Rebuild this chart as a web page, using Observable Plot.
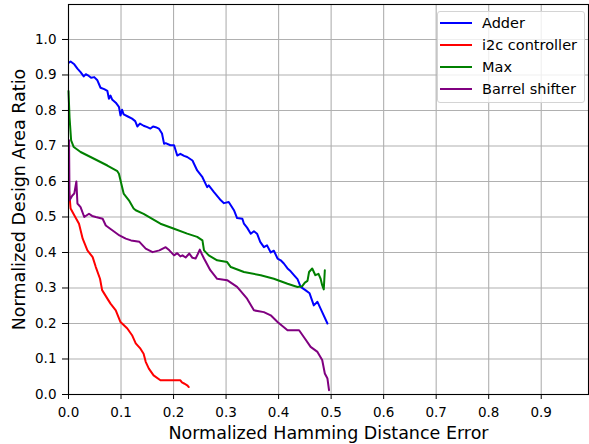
<!DOCTYPE html>
<html>
<head>
<meta charset="utf-8">
<script src="https://cdn.jsdelivr.net/npm/d3@7"></script>
<script src="https://cdn.jsdelivr.net/npm/@observablehq/plot@0.6"></script>
<style>
  body { margin: 0; background: #fff; font-family: "DejaVu Sans", sans-serif; }
  #wrap { position: relative; width: 589px; height: 444px; }
  .legend { position: absolute; left: 437px; top: 11px; width: 148px; height: 92px; box-sizing: border-box;
            border: 1px solid #d4d4d4; border-radius: 3px; background: rgba(255,255,255,0.8);
            font-family: "DejaVu Sans", sans-serif; font-size: 14.5px; color: #000; }
  .legend .row { position: absolute; left: 0; height: 22px; display: flex; align-items: center; white-space: nowrap; }
  .legend .sw { width: 32px; height: 2px; margin-left: 2px; margin-right: 10px; }
</style>
</head>
<body>
<div id="wrap"></div>
<script>
const seriesNames = ["Adder", "i2c controller", "Max", "Barrel shifter"];
const seriesColors = ["blue", "red", "green", "purple"];
const xTicks = [0, 0.1, 0.2, 0.3, 0.4, 0.5, 0.6, 0.7, 0.8, 0.9];
const yTicks = [0, 0.1, 0.2, 0.3, 0.4, 0.5, 0.6, 0.7, 0.8, 0.9, 1.0];
const xLabel = "Normalized Hamming Distance Error";
const yLabel = "Normalized Design Area Ratio";

const adderX = [0.001,0.004,0.011,0.017,0.023,0.029,0.033,0.037,0.043,0.049,0.055,0.061,0.068,0.074,0.077,0.080,0.083,0.090,0.096,0.099,0.102,0.105,0.113,0.121,0.127,0.131,0.136,0.143,0.150,0.156,0.161,0.166,0.172,0.178,0.182,0.185,0.194,0.201,0.207,0.213,0.220,0.226,0.236,0.245,0.255,0.264,0.267,0.277,0.290,0.296,0.305,0.315,0.321,0.331,0.334,0.340,0.347,0.353,0.359,0.365,0.372,0.378,0.385,0.391,0.398,0.404,0.410,0.417,0.423,0.430,0.436,0.442,0.451,0.459,0.467,0.474,0.483,0.493];
const adderY = [0.935,0.938,0.930,0.918,0.908,0.896,0.902,0.899,0.892,0.894,0.885,0.864,0.860,0.855,0.833,0.842,0.831,0.822,0.810,0.786,0.802,0.789,0.783,0.777,0.770,0.755,0.763,0.757,0.753,0.749,0.755,0.753,0.749,0.735,0.706,0.708,0.702,0.702,0.673,0.678,0.672,0.669,0.659,0.631,0.612,0.584,0.589,0.570,0.547,0.539,0.542,0.519,0.497,0.495,0.481,0.470,0.453,0.460,0.453,0.430,0.415,0.420,0.400,0.405,0.383,0.378,0.369,0.355,0.347,0.335,0.325,0.303,0.294,0.285,0.251,0.261,0.232,0.200];

const i2cX = [0.001,0.004,0.011,0.020,0.027,0.036,0.046,0.052,0.060,0.064,0.074,0.080,0.090,0.099,0.112,0.121,0.128,0.137,0.143,0.147,0.153,0.162,0.175,0.188,0.213,0.216,0.220,0.226,0.229];
const i2cY = [0.575,0.524,0.505,0.481,0.439,0.406,0.387,0.359,0.326,0.294,0.270,0.256,0.237,0.204,0.186,0.167,0.144,0.129,0.115,0.092,0.073,0.054,0.040,0.040,0.040,0.034,0.031,0.026,0.021];

const maxX = [0.000,0.002,0.005,0.010,0.023,0.042,0.058,0.074,0.093,0.096,0.105,0.115,0.124,0.128,0.143,0.175,0.201,0.226,0.245,0.255,0.258,0.267,0.283,0.302,0.309,0.334,0.366,0.391,0.417,0.436,0.445,0.450,0.455,0.458,0.464,0.470,0.476,0.480,0.483,0.486,0.488];
const maxY = [0.855,0.780,0.716,0.697,0.683,0.669,0.657,0.645,0.629,0.622,0.566,0.547,0.524,0.519,0.509,0.481,0.467,0.453,0.444,0.434,0.406,0.392,0.378,0.373,0.359,0.345,0.336,0.326,0.312,0.303,0.305,0.315,0.320,0.345,0.355,0.336,0.340,0.326,0.308,0.296,0.350];

const barrelX = [0.001,0.002,0.007,0.011,0.015,0.017,0.023,0.030,0.039,0.045,0.052,0.065,0.071,0.084,0.097,0.109,0.119,0.135,0.147,0.160,0.173,0.185,0.192,0.201,0.207,0.213,0.217,0.223,0.230,0.236,0.242,0.246,0.250,0.254,0.258,0.270,0.283,0.302,0.321,0.340,0.353,0.372,0.385,0.398,0.417,0.439,0.448,0.461,0.474,0.483,0.488,0.493,0.496];
const barrelY = [0.716,0.547,0.560,0.566,0.600,0.538,0.528,0.500,0.509,0.503,0.500,0.495,0.476,0.462,0.448,0.439,0.434,0.430,0.411,0.401,0.406,0.415,0.406,0.392,0.398,0.389,0.392,0.386,0.397,0.385,0.383,0.395,0.408,0.395,0.383,0.350,0.326,0.322,0.303,0.270,0.237,0.232,0.223,0.204,0.181,0.181,0.162,0.134,0.120,0.097,0.059,0.045,0.012];

const seriesX = [adderX, i2cX, maxX, barrelX];
const seriesY = [adderY, i2cY, maxY, barrelY];
const rows = [];
seriesNames.forEach((name, s) => {
  seriesX[s].forEach((x, i) => rows.push({series: name, x, y: seriesY[s][i]}));
});

const chart = Plot.plot({
  width: 589,
  height: 444,
  marginLeft: 68,
  marginRight: 1,
  marginTop: 4,
  marginBottom: 50,
  style: {fontFamily: "DejaVu Sans, sans-serif", fontSize: "13.5px", background: "white", color: "black"},
  x: {domain: [0, 0.99]},
  y: {domain: [0, 1.0985]},
  color: {domain: seriesNames, range: seriesColors},
  marks: [
    Plot.gridX(xTicks, {stroke: "#b0b0b0", strokeOpacity: 1, strokeWidth: 1.1}),
    Plot.gridY(yTicks, {stroke: "#b0b0b0", strokeOpacity: 1, strokeWidth: 1.1}),
    Plot.line(rows, {x: "x", y: "y", z: "series", stroke: "series", strokeWidth: 2}),
    Plot.frame({stroke: "black", strokeWidth: 1.1}),
    Plot.axisX(xTicks, {tickFormat: d3.format(".1f"), tickSize: 5, tickPadding: 8, label: null, fontSize: 13.5}),
    Plot.axisY(yTicks, {tickFormat: d3.format(".1f"), tickSize: 6, tickPadding: 6, label: null, fontSize: 13.5}),
    Plot.text([xLabel], {text: d => d, frameAnchor: "bottom", textAnchor: "middle", lineAnchor: "middle", dy: 39, fontSize: 17.5, fill: "black"}),
    Plot.text([yLabel], {text: d => d, frameAnchor: "left", textAnchor: "middle", lineAnchor: "middle", rotate: -90, dx: -49, fontSize: 17.5, fill: "black"})
  ]
});

const wrap = document.getElementById("wrap");
wrap.appendChild(chart);

const legend = document.createElement("div");
legend.className = "legend";
seriesNames.forEach((name, i) => {
  const row = document.createElement("div");
  row.className = "row";
  row.style.top = (i * 22.25 - 0.5) + "px";
  const sw = document.createElement("div");
  sw.className = "sw";
  sw.style.background = seriesColors[i];
  const label = document.createElement("span");
  label.textContent = name;
  row.appendChild(sw);
  row.appendChild(label);
  legend.appendChild(row);
});
wrap.appendChild(legend);
</script>
</body>
</html>
